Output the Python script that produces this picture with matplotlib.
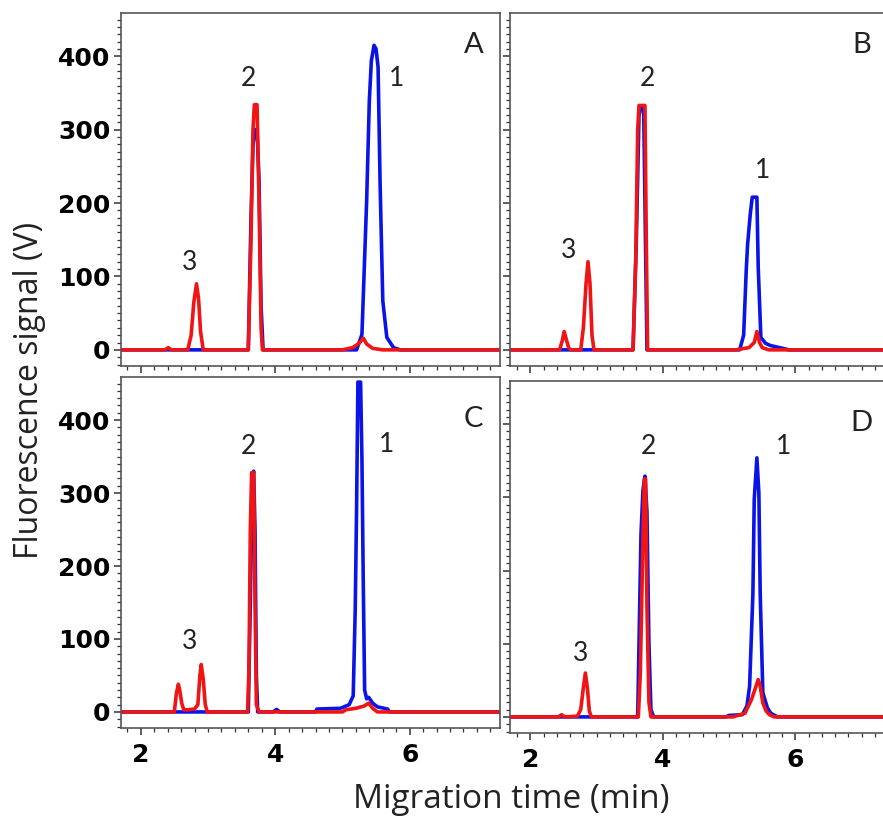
import matplotlib
matplotlib.use('Agg')
import matplotlib.pyplot as plt
from matplotlib.ticker import MultipleLocator

# traces: migration time (min) / signal (V)
a_blue_t = [1.70, 3.60, 3.64, 3.67, 3.70, 3.73, 3.76, 3.79, 3.82, 5.21, 5.29, 5.36, 5.40, 5.43, 5.47, 5.50, 5.53, 5.56, 5.60, 5.66, 5.76, 5.86, 7.40]
a_blue_y = [0, 0, 180, 280, 300, 300, 230, 60, 0, 0, 21, 203, 340, 394, 415, 410, 385, 226, 67, 17, 3, 0, 0]
a_red_t = [1.70, 2.36, 2.41, 2.46, 2.70, 2.75, 2.79, 2.83, 2.86, 2.89, 2.93, 3.60, 3.64, 3.67, 3.69, 3.73, 3.76, 3.79, 3.81, 5.00, 5.15, 5.25, 5.31, 5.36, 5.45, 5.60, 7.40]
a_red_y = [0, 0, 3, 0, 0, 20, 65, 90, 70, 25, 0, 0, 150, 300, 334, 334, 200, 30, 0, 0, 3, 9, 16, 8, 2, 0, 0]

b_blue_t = [1.69, 3.55, 3.60, 3.64, 3.67, 3.71, 3.73, 3.76, 5.16, 5.22, 5.26, 5.28, 5.32, 5.35, 5.42, 5.44, 5.48, 5.55, 5.62, 5.86, 5.90, 7.40]
b_blue_y = [0, 0, 150, 320, 330, 330, 200, 0, 0, 20, 110, 144, 185, 208, 208, 113, 17, 9, 6, 1, 0, 0]
b_red_t = [1.69, 2.44, 2.48, 2.51, 2.54, 2.58, 2.62, 2.76, 2.80, 2.84, 2.87, 2.90, 2.93, 2.96, 3.55, 3.59, 3.62, 3.64, 3.73, 3.75, 3.77, 5.10, 5.30, 5.38, 5.42, 5.46, 5.50, 5.60, 7.40]
b_red_y = [0, 0, 12, 25, 15, 2, 0, 0, 30, 90, 120, 90, 20, 0, 0, 120, 300, 333, 333, 150, 0, 0, 3, 10, 25, 10, 3, 0, 0]

c_blue_t = [1.70, 3.60, 3.63, 3.66, 3.68, 3.70, 3.72, 3.74, 3.97, 4.02, 4.07, 4.60, 4.62, 4.97, 5.10, 5.16, 5.19, 5.21, 5.23, 5.27, 5.29, 5.31, 5.33, 5.36, 5.39, 5.45, 5.52, 5.67, 5.70, 7.40]
c_blue_y = [0, 0, 150, 320, 330, 250, 50, 0, 0, 3.5, 0, 0, 4, 5, 10, 22, 140, 277, 452, 452, 347, 175, 30, 18, 20, 12, 7, 4, 0, 0]
c_red_t = [1.70, 2.50, 2.53, 2.56, 2.58, 2.61, 2.64, 2.70, 2.80, 2.85, 2.88, 2.90, 2.93, 2.96, 2.99, 3.59, 3.61, 3.63, 3.65, 3.68, 3.70, 3.72, 3.76, 5.00, 5.05, 5.20, 5.32, 5.39, 5.45, 5.52, 7.40]
c_red_y = [0, 0, 25, 38, 30, 12, 3, 3, 4, 10, 50, 65, 45, 10, 0, 0, 60, 250, 328, 328, 150, 10, 0, 0, 3, 5, 8, 12, 5, 0, 0]

d_blue_t = [1.69, 3.62, 3.64, 3.67, 3.70, 3.73, 3.76, 3.79, 3.82, 3.86, 4.95, 5.00, 5.20, 5.27, 5.31, 5.36, 5.38, 5.42, 5.45, 5.47, 5.51, 5.58, 5.63, 5.73, 7.40]
d_blue_y = [0, 0, 100, 250, 310, 329, 280, 100, 10, 0, 0, 2, 3, 15, 42, 169, 297, 354, 306, 169, 33, 12, 5, 0, 0]
d_red_t = [1.69, 2.42, 2.47, 2.52, 2.71, 2.76, 2.80, 2.83, 2.86, 2.89, 2.92, 3.63, 3.66, 3.69, 3.72, 3.74, 3.76, 3.79, 3.82, 5.06, 5.24, 5.34, 5.40, 5.44, 5.47, 5.51, 5.56, 5.61, 5.68, 7.40]
d_red_y = [0, 0, 3, 0, 1, 10, 40, 60, 40, 8, 0, 0, 60, 200, 325, 325, 150, 20, 0, 0, 5, 24, 40, 51, 42, 19, 8, 3, 0, 0]

panel_letters = ['A', 'B', 'C', 'D']
# peak label positions (time, signal) for peaks 3, 2, 1
peak_names = ['3', '2', '1']
a_peak_pos = [(2.73, 119), (3.60, 370), (5.81, 370)]
b_peak_pos = [(2.57, 135), (3.76, 370), (5.51, 244)]
c_peak_pos = [(2.73, 97), (3.60, 364), (5.65, 366)]
d_peak_pos = [(2.75, 87), (3.78, 369), (5.82, 369)]

W, H = 883, 819
fig = plt.figure(figsize=(W / 100, H / 100), dpi=100)

# axes boxes in pixels: left, top, right, bottom
boxes = [(121, 13, 500, 366), (510, 13, 890, 366),
         (121, 377, 500, 728), (510, 381, 890, 733)]
xlims = [(1.707, 7.343), (1.692, 7.43), (1.707, 7.343), (1.692, 7.43)]

panels = [
    (a_blue_t, a_blue_y, a_red_t, a_red_y, a_peak_pos),
    (b_blue_t, b_blue_y, b_red_t, b_red_y, b_peak_pos),
    (c_blue_t, c_blue_y, c_red_t, c_red_y, c_peak_pos),
    (d_blue_t, d_blue_y, d_red_t, d_red_y, d_peak_pos),
]

label_font = 'Lato'
title_font = 'Open Sans'

for i, (bt, by, rt, ry, ppos) in enumerate(panels):
    l, t, r, b = boxes[i]
    ax = fig.add_axes([l / W, 1 - b / H, (r - l) / W, (b - t) / H])
    ax.plot(bt, by, color='#0a14e6', lw=2.6, solid_joinstyle='round')
    ax.plot(rt, ry, color='#f01414', lw=2.6, solid_joinstyle='round')
    ax.set_xlim(*xlims[i])
    ax.set_ylim(-22, 459)

    ax.xaxis.set_major_locator(MultipleLocator(2))
    ax.xaxis.set_minor_locator(MultipleLocator(0.2))
    ax.yaxis.set_major_locator(MultipleLocator(100))
    ax.yaxis.set_minor_locator(MultipleLocator(10))
    ax.tick_params(which='major', direction='out', length=5, width=1.1, color='#333333', pad=2.5)
    ax.tick_params(which='minor', direction='out', length=3, width=0.9, color='#333333')
    ax.tick_params(axis='x', which='major', pad=6)
    for s in ax.spines.values():
        s.set_color('#555555')
        s.set_linewidth(1.2)

    if i in (0, 1):
        ax.set_xticklabels([])
    if i in (1, 3):
        ax.set_yticklabels([])
    for lab in ax.get_xticklabels() + ax.get_yticklabels():
        lab.set_fontfamily('DejaVu Sans')
        lab.set_fontweight('bold')
        lab.set_fontsize(18)

    for name, (px, py) in zip(peak_names, ppos):
        ax.text(px, py, name, family=label_font, fontsize=19, color='#222222',
                ha='center', va='center')
    ax.text(0.93 if i in (0, 2) else 0.925, 0.91 if i < 2 else 0.88, panel_letters[i],
            transform=ax.transAxes, family=label_font, fontsize=21, color='#222222',
            ha='center', va='center')

fig.text(30 / W, 1 - 390 / H, 'Fluorescence signal (V)', rotation=90, family=title_font,
         fontsize=23, color='#222222', ha='center', va='center')
fig.text(511 / W, 1 - 799 / H, 'Migration time (min)', family=title_font,
         fontsize=24, color='#222222', ha='center', va='center')

fig.savefig('out.png', dpi=100)
